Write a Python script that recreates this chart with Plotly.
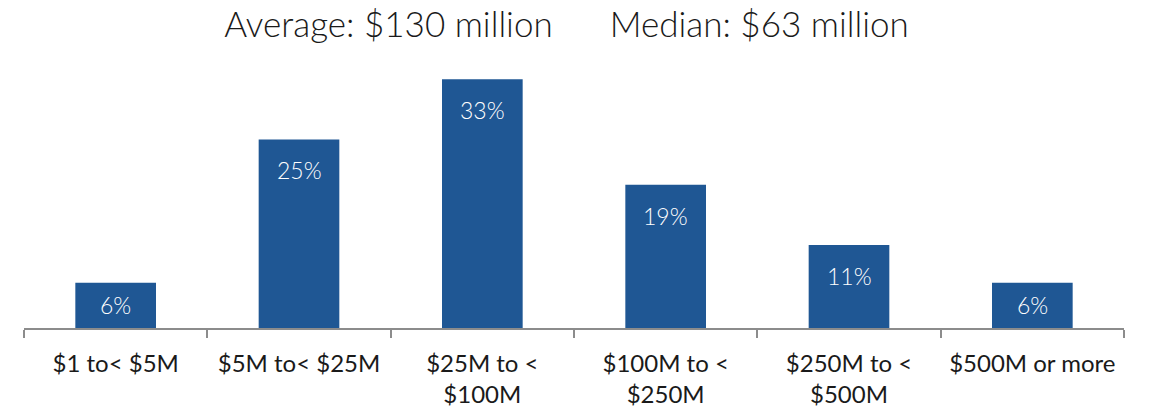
import plotly.graph_objects as go

# Share of companies by size band
categories = [
    "$1 to&lt; $5M",
    "$5M to&lt; $25M",
    "$25M to &lt;<br>$100M",
    "$100M to &lt;<br>$250M",
    "$250M to &lt;<br>$500M",
    "$500M or more",
]
shares = [6, 25, 33, 19, 11, 6]
average_text = "Average: $130 million"
median_text = "Median: $63 million"

BAR_COLOR = "#1F5794"
TEXT_FONT = "Lato, Carlito, Calibri, sans-serif"

fig = go.Figure(
    go.Bar(
        x=categories,
        y=shares,
        width=0.44,
        marker=dict(color=BAR_COLOR, line=dict(width=0)),
        hoverinfo="skip",
    )
)

# value labels placed just inside the top of each bar
for cat, v in zip(categories, shares):
    fig.add_annotation(
        x=cat,
        y=max(v - 4.1, v / 2),
        text=f"{v}%",
        showarrow=False,
        xanchor="center",
        yanchor="middle",
        font=dict(family=TEXT_FONT, size=23, color="white", weight=300),
    )

title = average_text + "\u00a0" * 6 + median_text

fig.update_layout(
    width=1152,
    height=410,
    margin=dict(l=24, r=28, t=60, b=82),
    paper_bgcolor="white",
    plot_bgcolor="white",
    showlegend=False,
    title=dict(
        text=title,
        x=566.5 / 1152,
        xanchor="center",
        xref="container",
        y=1 - 25 / 410,
        yanchor="middle",
        yref="container",
        font=dict(family=TEXT_FONT, size=35, color="#1a1a1a", weight=300),
    ),
    xaxis=dict(
        type="category",
        range=[-0.5, 5.5],
        automargin=False,
        showline=True,
        linecolor="#8C8C8C",
        linewidth=2,
        ticks="outside",
        tickson="boundaries",
        ticklen=8,
        tickwidth=2,
        tickcolor="#8C8C8C",
        showgrid=False,
        zeroline=False,
        ticklabelstandoff=13,
        tickfont=dict(family=TEXT_FONT, size=24, color="#1a1a1a"),
    ),
    yaxis=dict(visible=False, range=[0, 35.55], showgrid=False, zeroline=False,
               automargin=False),
)

fig.write_html("out.html")
